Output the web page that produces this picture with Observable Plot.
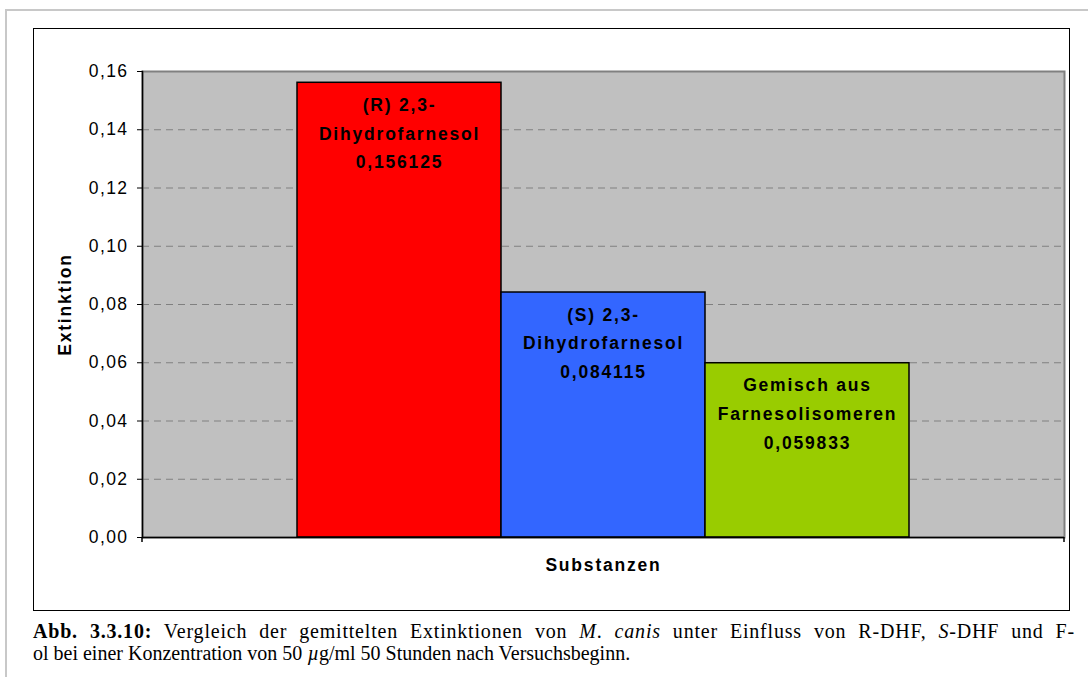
<!DOCTYPE html>
<html><head><meta charset="utf-8">
<script src="https://cdn.jsdelivr.net/npm/d3@7"></script>
<script src="https://cdn.jsdelivr.net/npm/@observablehq/plot@0.6"></script>
<style>
html,body{margin:0;padding:0;background:#fff;}
body{width:1088px;height:677px;position:relative;overflow:hidden;font-family:"Liberation Sans",Arial,sans-serif;}
#outer{position:absolute;left:5px;top:9px;width:1100px;height:700px;border-top:2px solid #c8c8c8;border-left:2px solid #c8c8c8;}
#frame{position:absolute;left:33px;top:28px;width:1035px;height:581px;border:1px solid #000;background:#fff;}
#frame svg{display:block;}
#caption{position:absolute;left:33px;top:620px;width:1042px;font-family:"Liberation Serif","Times New Roman",serif;font-size:20px;line-height:22px;color:#000;}
.l1{text-align:justify;text-align-last:justify;white-space:nowrap;letter-spacing:0.8px;}
</style></head>
<body>
<div id="outer"></div>
<div id="frame"></div>
<div id="caption"><div class="l1"><b>Abb. 3.3.10:</b> Vergleich der gemittelten Extinktionen von <i>M</i>. <i>canis</i> unter Einfluss von R-DHF, <i>S</i>-DHF und F-</div><div>ol bei einer Konzentration von 50 <i>µ</i>g/ml 50 Stunden nach Versuchsbeginn.</div></div>
<script>
// ---- data ----
const substances = ["(R) 2,3-Dihydrofarnesol", "(S) 2,3-Dihydrofarnesol", "Gemisch aus Farnesolisomeren"];
const labelLines = [["(R) 2,3-", "Dihydrofarnesol"], ["(S) 2,3-", "Dihydrofarnesol"], ["Gemisch aus", "Farnesolisomeren"]];
const extinction = [0.156125, 0.084115, 0.059833];
const barColors = ["#FF0000", "#3366FF", "#99CC00"];
const yTicks = [0, 0.02, 0.04, 0.06, 0.08, 0.10, 0.12, 0.14, 0.16];
const xTitle = "Substanzen";
const yTitle = "Extinktion";

const de = d3.formatLocale({decimal: ",", thousands: ".", grouping: [3], currency: ["", "€"]});
const data = substances.map((s, i) => ({
  substance: s,
  value: extinction[i],
  color: barColors[i],
  label: labelLines[i].join("\n") + "\n" + de.format(".6f")(extinction[i])
}));

const endTicks = (index, scales, values, dims) => {
  const g = d3.create("svg:g");
  const y0 = dims.height - dims.marginBottom;
  [dims.marginLeft, dims.width - dims.marginRight].forEach(x =>
    g.append("line").attr("x1", x).attr("x2", x).attr("y1", y0).attr("y2", y0 + 5)
      .attr("stroke", "#000").attr("stroke-width", 1.5));
  return g.node();
};

const chart = Plot.plot({
  width: 1035, height: 581,
  marginLeft: 108, marginRight: 5, marginTop: 42, marginBottom: 73,
  style: {fontFamily: '"Liberation Sans", Arial, sans-serif', fontSize: "17.5px", color: "#000", background: "#fff", overflow: "visible"},
  x: {type: "band", domain: substances, paddingInner: 0, paddingOuter: 0.75},
  y: {domain: [0, 0.16]},
  color: {type: "identity"},
  marks: [
    Plot.frame({fill: "#C0C0C0", stroke: "#808080", strokeWidth: 2}),
    Plot.ruleY(yTicks.slice(1, -1), {stroke: "#808080", strokeDasharray: "7,5", strokeWidth: 1}),
    Plot.barY(data, {x: "substance", y: "value", fill: "color", stroke: "#000", strokeWidth: 1.5}),
    Plot.text(data, {x: "substance", y: "value", text: "label", lineAnchor: "top", dy: 8, fontWeight: "bold", fontSize: 17.5, lineHeight: 1.63, fill: "#000"}),
    Plot.axisY({ticks: yTicks, tickSize: 5, tickPadding: 9, tickFormat: d => de.format(".2f")(d), label: yTitle, labelAnchor: "center", labelOffset: 84, labelArrow: "none"}),
    Plot.axisX({tickSize: 0, tickFormat: () => "", label: xTitle, labelAnchor: "center", labelOffset: 33}),
    Plot.ruleY([0], {stroke: "#000", strokeWidth: 1.5}),
    Plot.frame({anchor: "left", stroke: "#000", strokeWidth: 1.5}),
    endTicks
  ]
});
document.getElementById("frame").appendChild(chart);
const svg = d3.select(chart);
svg.selectAll("text").style("letter-spacing", "1.8px");
svg.selectAll('g[aria-label="y-axis tick label"] text').style("letter-spacing", "1.4px");
svg.selectAll('g[aria-label="y-axis label"] text, g[aria-label="x-axis label"] text').style("font-weight", "bold");
</script>
</body></html>
